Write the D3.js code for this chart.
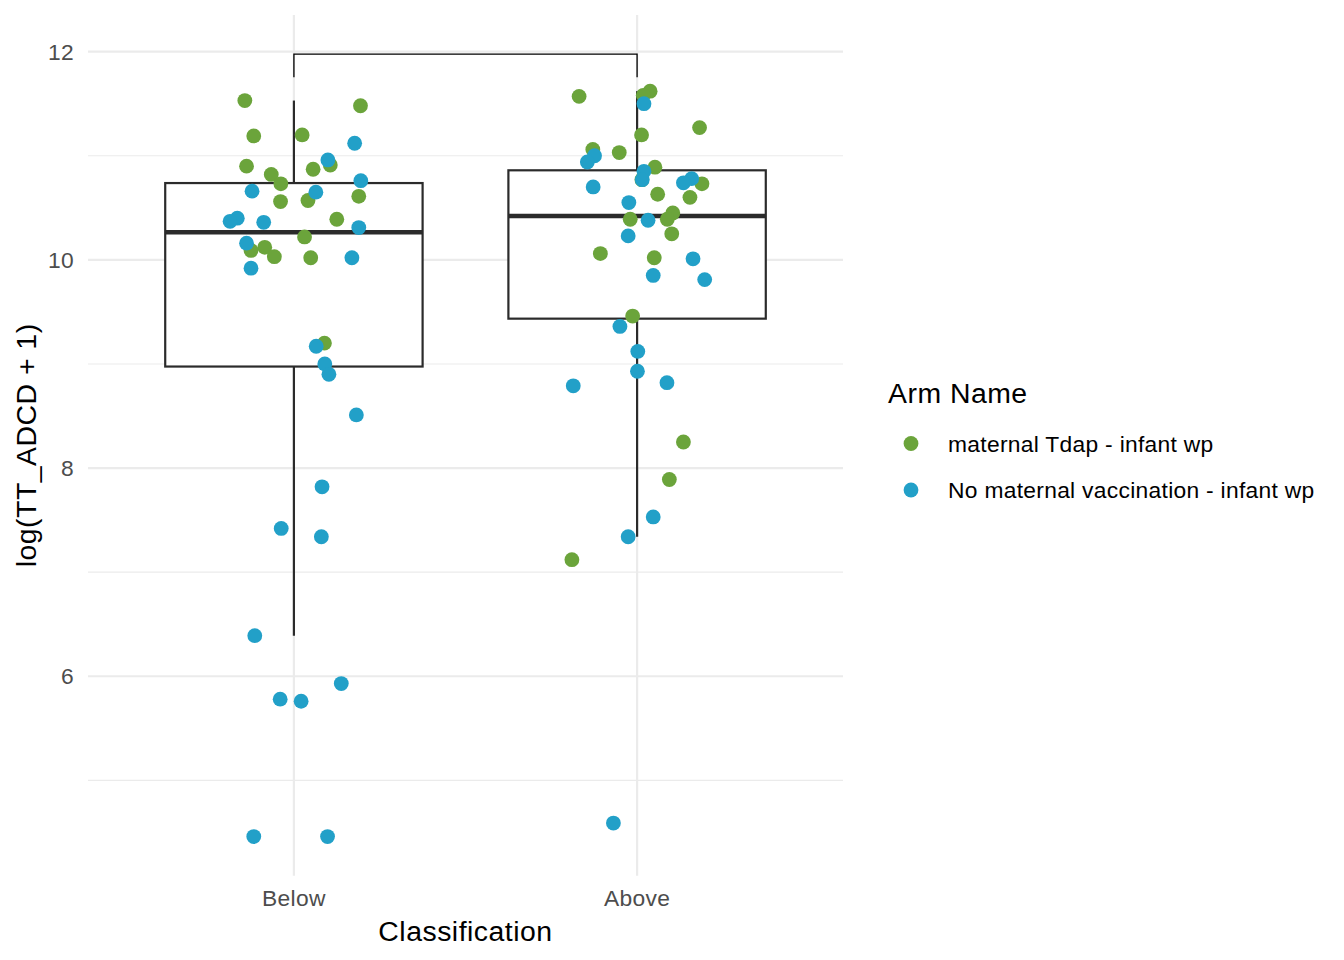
<!DOCTYPE html>
<html>
<head>
<meta charset="utf-8">
<script src="https://cdn.jsdelivr.net/npm/d3@7"></script>
<style>
  body { margin: 0; background: #fff; }
  svg text { font-family: "Liberation Sans", Arial, Helvetica, sans-serif; }
  .tick-label { fill: #4d4d4d; font-size: 22.8px; letter-spacing: 0.3px; }
  .axis-title, .legend-title { fill: #000; font-size: 28.4px; letter-spacing: 0.5px; }
  .legend-label { fill: #000; font-size: 22.8px; letter-spacing: 0.3px; }
</style>
</head>
<body>
<div id="chart"></div>
<script>
// Categories on the x axis and the two arms (colour groups)
const categories = ['Below', 'Above'];
const arms = ['maternal Tdap - infant wp', 'No maternal vaccination - infant wp'];
const armColors = ['#6ba43b', '#22a0c8'];

// log(TT_ADCD + 1) values, with the jitter offset of each point (category units)
const belowTdap = [11.53, 11.48, 11.19, 11.20, 10.90, 10.82, 10.73, 10.87, 10.91, 10.56,
                   10.57, 10.61, 10.39, 10.22, 10.12, 10.09, 10.03, 10.02, 9.20];
const belowTdapJitter = [-0.143, 0.194, -0.117, 0.024, -0.138, -0.066, -0.038, 0.056, 0.106, -0.039,
                         0.041, 0.189, 0.125, 0.031, -0.085, -0.125, -0.057, 0.049, 0.089];
const belowNone = [11.12, 10.96, 10.76, 10.66, 10.65, 10.40, 10.37, 10.36, 10.31, 10.16,
                   10.02, 9.92, 9.17, 9.00, 8.90, 8.51, 7.82, 7.42, 7.34, 6.39,
                   5.78, 5.76, 5.93, 4.46, 4.46];
const belowNoneJitter = [0.177, 0.099, 0.195, -0.122, 0.064, -0.165, -0.186, -0.088, 0.189, -0.138,
                         0.169, -0.125, 0.065, 0.090, 0.102, 0.182, 0.082, -0.037, 0.080, -0.114,
                         -0.040, 0.021, 0.138, -0.117, 0.098];
const aboveTdap = [11.57, 11.62, 11.58, 11.27, 11.20, 11.06, 11.03, 10.89, 10.77, 10.73,
                   10.63, 10.60, 10.45, 10.39, 10.39, 10.25, 10.06, 10.02, 9.46, 8.25,
                   7.89, 7.12];
const aboveTdapJitter = [-0.169, 0.038, 0.018, 0.182, 0.013, -0.129, -0.052, 0.052, 0.014, 0.189,
                         0.060, 0.154, 0.104, 0.088, -0.020, 0.101, -0.107, 0.050, -0.013, 0.135,
                         0.094, -0.190];
const aboveNone = [11.50, 11.00, 10.94, 10.85, 10.77, 10.78, 10.74, 10.70, 10.55, 10.38,
                   10.23, 10.01, 9.85, 9.81, 9.36, 9.12, 8.93, 8.79, 8.82, 7.53,
                   7.34, 4.59];
const aboveNoneJitter = [0.020, -0.124, -0.145, 0.020, 0.015, 0.159, 0.135, -0.128, -0.024, 0.032,
                         -0.026, 0.163, 0.047, 0.197, -0.050, 0.002, 0.001, -0.186, 0.087, 0.047,
                         -0.026, -0.069];

// Significance bracket between the two groups (y of bar, y of the tick ends)
const bracketY = 11.976;
const bracketTickY = 11.755;

const yTicks = [6, 8, 10, 12];
const yMinorTicks = [5, 7, 9, 11];

class BoxJitterPlot {

    constructor(_config) {
        this.config = {
            parentElement: _config.parentElement,
            containerWidth: 1344,
            containerHeight: 960,
            margin: {top: 15, right: 501, bottom: 84.3, left: 88},
            pointRadius: 7.4,
            boxWidth: 0.75
        };
        this.initVis();
    }

    initVis() {
        let vis = this;

        vis.width = vis.config.containerWidth - vis.config.margin.left - vis.config.margin.right;
        vis.height = vis.config.containerHeight - vis.config.margin.top - vis.config.margin.bottom;

        vis.svg = d3.select(vis.config.parentElement).append('svg')
            .attr('width', vis.config.containerWidth)
            .attr('height', vis.config.containerHeight);

        vis.chart = vis.svg.append('g')
            .attr('transform', `translate(${vis.config.margin.left},${vis.config.margin.top})`);

        // Build one record per point
        const groups = [
            {cat: 'Below', arm: 0, values: belowTdap, jitter: belowTdapJitter},
            {cat: 'Above', arm: 0, values: aboveTdap, jitter: aboveTdapJitter},
            {cat: 'Below', arm: 1, values: belowNone, jitter: belowNoneJitter},
            {cat: 'Above', arm: 1, values: aboveNone, jitter: aboveNoneJitter}
        ];
        vis.points = [];
        groups.forEach(g => g.values.forEach((v, i) => {
            vis.points.push({cat: g.cat, arm: g.arm, value: v, jitter: g.jitter[i]});
        }));

        vis.xScale = d3.scalePoint()
            .domain(categories)
            .range([0, vis.width])
            .padding(0.6);

        // ggplot style 5% expansion of the data range (bracket included)
        const allY = vis.points.map(d => d.value).concat([bracketY]);
        const [lo, hi] = d3.extent(allY);
        const pad = (hi - lo) * 0.05;
        vis.yScale = d3.scaleLinear()
            .domain([lo - pad, hi + pad])
            .range([vis.height, 0]);

        vis.colorScale = d3.scaleOrdinal().domain([0, 1]).range(armColors);

        vis.updateVis();
    }

    updateVis() {
        let vis = this;

        // Five-number summary per category (R type 7 quantiles, whiskers at 1.5 IQR)
        vis.boxStats = categories.map(cat => {
            const vals = vis.points.filter(d => d.cat === cat).map(d => d.value).sort(d3.ascending);
            const q1 = d3.quantile(vals, 0.25);
            const med = d3.quantile(vals, 0.5);
            const q3 = d3.quantile(vals, 0.75);
            const iqr = q3 - q1;
            const lowW = d3.min(vals.filter(v => v >= q1 - 1.5 * iqr));
            const highW = d3.max(vals.filter(v => v <= q3 + 1.5 * iqr));
            return {cat, q1, med, q3, lowW, highW};
        });

        vis.renderVis();
    }

    renderVis() {
        let vis = this;
        const x = vis.xScale, y = vis.yScale;
        const step = x.step();

        // Grid lines
        const grid = vis.chart.append('g').attr('class', 'grid');
        grid.selectAll('.minor')
            .data(yMinorTicks)
            .join('line')
            .attr('x1', 0).attr('x2', vis.width)
            .attr('y1', d => y(d)).attr('y2', d => y(d))
            .attr('stroke', '#ebebeb').attr('stroke-width', 1.1);
        grid.selectAll('.major')
            .data(yTicks)
            .join('line')
            .attr('x1', 0).attr('x2', vis.width)
            .attr('y1', d => y(d)).attr('y2', d => y(d))
            .attr('stroke', '#ebebeb').attr('stroke-width', 2.2);
        grid.selectAll('.vmajor')
            .data(categories)
            .join('line')
            .attr('x1', d => x(d)).attr('x2', d => x(d))
            .attr('y1', 0).attr('y2', vis.height)
            .attr('stroke', '#ebebeb').attr('stroke-width', 2.2);

        // Boxplots
        const boxW = vis.config.boxWidth * step;
        const box = vis.chart.selectAll('.box')
            .data(vis.boxStats)
            .join('g')
            .attr('class', 'box')
            .attr('stroke', '#2b2b2b')
            .attr('fill', 'none');

        box.append('line')
            .attr('x1', d => x(d.cat)).attr('x2', d => x(d.cat))
            .attr('y1', d => y(d.q3)).attr('y2', d => y(d.highW))
            .attr('stroke-width', 2.2);
        box.append('line')
            .attr('x1', d => x(d.cat)).attr('x2', d => x(d.cat))
            .attr('y1', d => y(d.q1)).attr('y2', d => y(d.lowW))
            .attr('stroke-width', 2.2);
        box.append('rect')
            .attr('x', d => x(d.cat) - boxW / 2)
            .attr('width', boxW)
            .attr('y', d => y(d.q3))
            .attr('height', d => y(d.q1) - y(d.q3))
            .attr('fill', '#fff')
            .attr('stroke-width', 2.2);
        box.append('line')
            .attr('x1', d => x(d.cat) - boxW / 2).attr('x2', d => x(d.cat) + boxW / 2)
            .attr('y1', d => y(d.med)).attr('y2', d => y(d.med))
            .attr('stroke-width', 4.5);

        // Jittered points
        vis.chart.selectAll('.dot')
            .data(vis.points)
            .join('circle')
            .attr('class', 'dot')
            .attr('cx', d => x(d.cat) + d.jitter * step)
            .attr('cy', d => y(d.value))
            .attr('r', vis.config.pointRadius)
            .attr('fill', d => vis.colorScale(d.arm));

        // Significance bracket
        const bx1 = x(categories[0]), bx2 = x(categories[1]);
        vis.chart.append('path')
            .attr('d', `M${bx1},${y(bracketTickY)}V${y(bracketY)}H${bx2}V${y(bracketTickY)}`)
            .attr('fill', 'none')
            .attr('stroke', '#000')
            .attr('stroke-width', 1.3);

        // Y tick labels
        vis.chart.selectAll('.y-label')
            .data(yTicks)
            .join('text')
            .attr('class', 'tick-label')
            .attr('x', -14)
            .attr('y', d => y(d))
            .attr('dy', '0.36em')
            .attr('text-anchor', 'end')
            .text(d => d);

        // X tick labels
        vis.chart.selectAll('.x-label')
            .data(categories)
            .join('text')
            .attr('class', 'tick-label')
            .attr('x', d => x(d))
            .attr('y', vis.height + 30.5)
            .attr('text-anchor', 'middle')
            .text(d => d);

        // Axis titles
        vis.chart.append('text')
            .attr('class', 'axis-title')
            .attr('x', vis.width / 2)
            .attr('y', vis.height + 65)
            .attr('text-anchor', 'middle')
            .text('Classification');

        vis.svg.append('text')
            .attr('class', 'axis-title')
            .attr('transform', `translate(36,${vis.config.margin.top + vis.height / 2}) rotate(-90)`)
            .attr('text-anchor', 'middle')
            .text('log(TT_ADCD + 1)');

        // Legend
        const legend = vis.svg.append('g')
            .attr('class', 'legend')
            .attr('transform', 'translate(888,403)');

        legend.append('text')
            .attr('class', 'legend-title')
            .text('Arm Name');

        const item = legend.selectAll('.legend-item')
            .data(arms)
            .join('g')
            .attr('class', 'legend-item')
            .attr('transform', (d, i) => `translate(0,${40.5 + i * 46.5})`);

        item.append('circle')
            .attr('cx', 23)
            .attr('r', vis.config.pointRadius)
            .attr('fill', (d, i) => vis.colorScale(i));

        item.append('text')
            .attr('class', 'legend-label')
            .attr('x', 60)
            .attr('dy', '0.36em')
            .text(d => d);
    }
}

new BoxJitterPlot({parentElement: '#chart'});
</script>
</body>
</html>
